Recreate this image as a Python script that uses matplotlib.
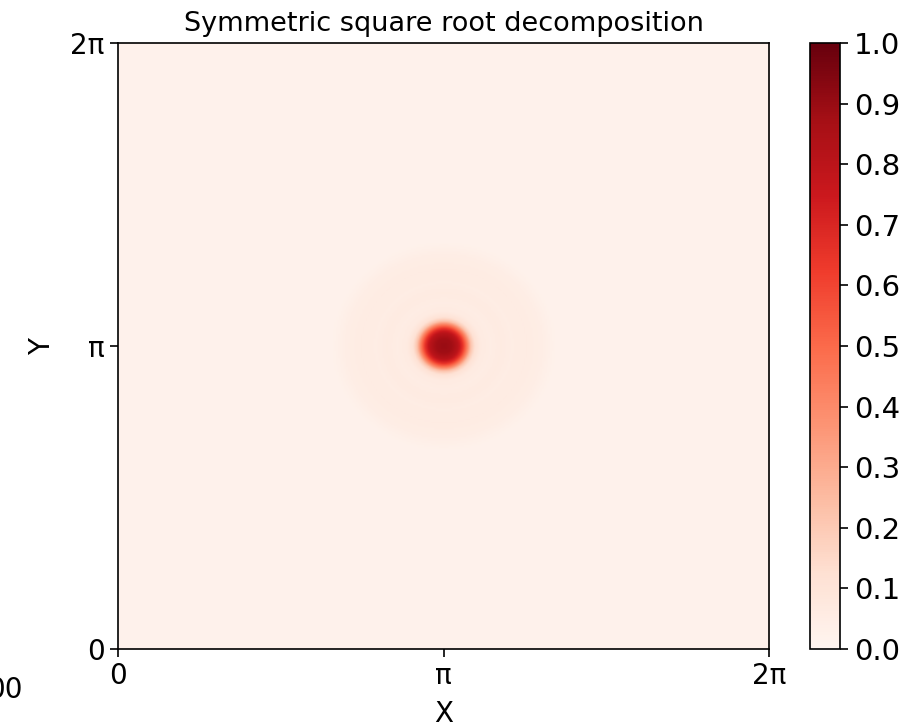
import numpy as np
import matplotlib
matplotlib.use('Agg')
import matplotlib.pyplot as plt

# radial profile of the field (radius in rad, value)
profile_r = [0.0, 0.08, 0.14, 0.18, 0.22, 0.26, 0.30, 0.36, 0.45, 0.55, 0.65, 0.80, 0.95, 1.03, 1.10, 4.5]
profile_v = [0.90, 0.88, 0.80, 0.66, 0.45, 0.22, 0.11, 0.06, 0.05, 0.06, 0.05, 0.055, 0.045, 0.03, 0.02, 0.02]

center = (np.pi, np.pi)
tick_pos = [0, np.pi, 2 * np.pi]
tick_labels = ['0', 'π', '2π']
cbar_ticks = [0.0, 0.1, 0.2, 0.3, 0.4, 0.5, 0.6, 0.7, 0.8, 0.9, 1.0]

plt.rcParams['font.family'] = ['DejaVu Sans']

# build the image from the radial profile
n = 400
xs = np.linspace(0, 2 * np.pi, n)
X, Y = np.meshgrid(xs, xs)
R = np.sqrt((X - center[0]) ** 2 + (Y - center[1]) ** 2)
Z = np.interp(R, profile_r, profile_v)

fig = plt.figure(figsize=(9.09, 7.28), dpi=100)
ax = fig.add_axes([0.1298, 0.1085, 0.7162, 0.8324])
cax = fig.add_axes([0.891, 0.1085, 0.033, 0.8324])

im = ax.imshow(Z, cmap='Reds', vmin=0, vmax=1, origin='lower',
               extent=[0, 2 * np.pi, 0, 2 * np.pi], aspect='auto',
               interpolation='bilinear')

ax.set_xticks(tick_pos)
ax.set_xticklabels(tick_labels, fontsize=20)
ax.set_yticks(tick_pos)
ax.set_yticklabels(tick_labels, fontsize=20)
ax.tick_params(length=6, width=1.2)
for s in ax.spines.values():
    s.set_linewidth(1.2)
ax.set_xlabel('X', fontsize=20, labelpad=7)
ax.set_ylabel('Y', fontsize=20, labelpad=10)
ax.set_title('Symmetric square root decomposition', fontsize=19.5, pad=9)

cb = fig.colorbar(im, cax=cax, ticks=cbar_ticks)
cb.ax.tick_params(labelsize=21, length=6, width=1.2, pad=4)
cb.ax.set_yticklabels([f'{t:.1f}' for t in cbar_ticks])
cb.outline.set_linewidth(1.2)

# leftover label cut at the left edge of the original
fig.text(-0.014, 0.052, '00', fontsize=20, ha='left', va='center')

fig.savefig('out.png', dpi=100)
